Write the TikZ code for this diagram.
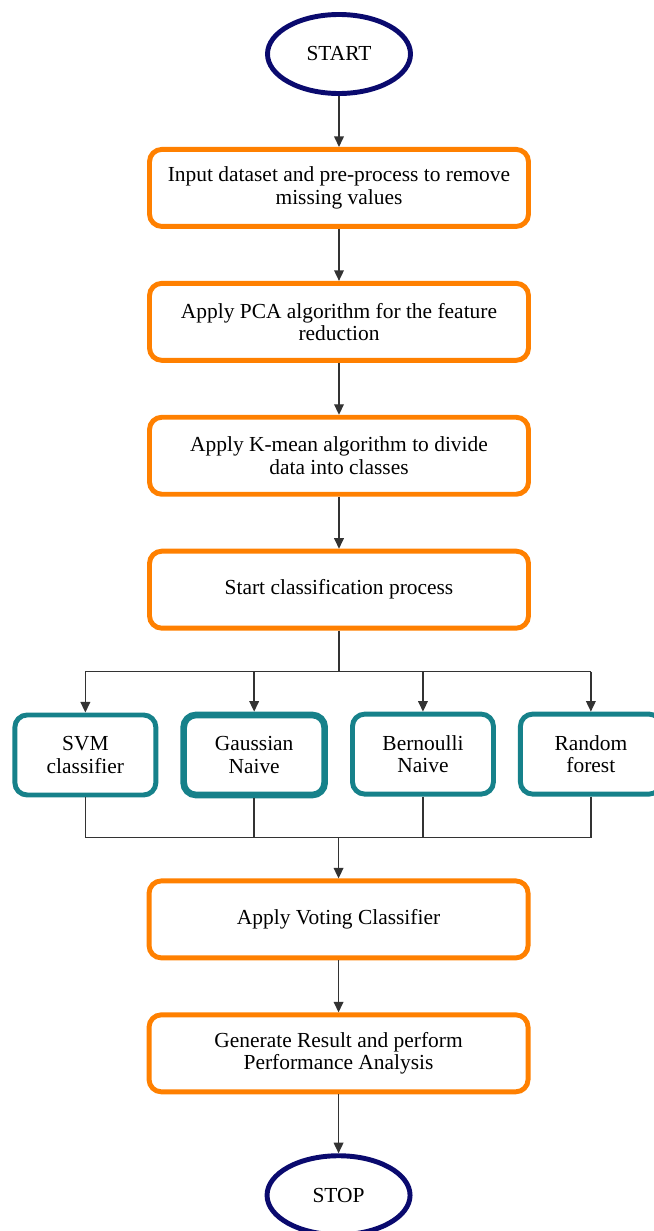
\documentclass[tikz,border=0pt]{standalone}
\usepackage{fontspec}
\setmainfont{Liberation Serif}
\usepackage{tikz}
\usetikzlibrary{shapes.geometric, arrows.meta, positioning, calc}
\definecolor{termline}{HTML}{0A0A6E}
\definecolor{procline}{HTML}{FF8000}
\definecolor{clfline}{HTML}{16818A}
\definecolor{linkgray}{HTML}{333333}

\begin{document}
\begin{tikzpicture}[
    node distance=1.04cm,
    every node/.style={font=\fontsize{12.2}{12.8}\selectfont},
    terminal/.style={ellipse, draw=termline, line width=2.8pt,
                     minimum width=2.86cm, minimum height=1.58cm},
    process/.style={rectangle, draw=procline, rounded corners=7pt,
                    minimum width=7.58cm, minimum height=1.54cm,
                    align=center, line width=2.8pt},
    classifier/.style={rectangle, draw=clfline, rounded corners=7pt,
                       minimum width=2.82cm, minimum height=1.6cm,
                       align=center, line width=2.8pt},
    thick border/.style={line width=3.8pt},
    link/.style={line width=0.8pt, color=linkgray},
    arrow/.style={-{Triangle[length=6pt, width=5.5pt]}, line width=0.8pt,
                  color=linkgray}
]
\useasboundingbox (-6.78,1.08) rectangle (6.30,-23.54);

% Main column
\node[terminal] (start) at (0,0) {START};
\node[process, below=1.02cm of start] (input)
    {Input dataset and pre-process to remove\\missing values};
\node[process, below=of input] (pca)
    {Apply PCA algorithm for the feature\\reduction};
\node[process, below=of pca] (kmean)
    {Apply K-mean algorithm to divide\\data into classes};
\node[process, below=of kmean] (classify)
    {Start classification process};

% Classifiers
\node[classifier, thick border, below left=1.62cm and 0.22cm of classify.south] (gauss)
    {Gaussian\\Naive};
\node[classifier, below right=1.62cm and 0.22cm of classify.south] (bern)
    {Bernoulli\\Naive};
\node[classifier, left=0.44cm of gauss] (svm) {SVM\\classifier};
\node[classifier, right=0.44cm of bern] (forest) {Random\\forest};

\coordinate[below=0.82cm of classify] (split);
\coordinate (merge) at ($(gauss.south)!0.5!(bern.south) + (0,-0.8)$);

% Voting and result
\node[process, below=0.82cm of merge] (vote) {Apply Voting Classifier};
\node[process, below=of vote] (result)
    {Generate Result and perform\\Performance Analysis};
\node[terminal, below=1.18cm of result] (stop) {STOP};

% Arrows
\draw[arrow] (start) -- (input);
\draw[arrow] (input) -- (pca);
\draw[arrow] (pca) -- (kmean);
\draw[arrow] (kmean) -- (classify);
\draw[link] (classify) -- (split);
\draw[link] (svm.north |- split) -- (forest.north |- split);
\foreach \clf in {svm, gauss, bern, forest}
    \draw[arrow] (\clf.north |- split) -- (\clf);
\foreach \clf in {svm, gauss, bern, forest}
    \draw[link] (\clf) |- (merge);
\draw[arrow] (merge) -- (vote);
\draw[arrow] (vote) -- (result);
\draw[arrow] (result) -- (stop);

\end{tikzpicture}
\end{document}
